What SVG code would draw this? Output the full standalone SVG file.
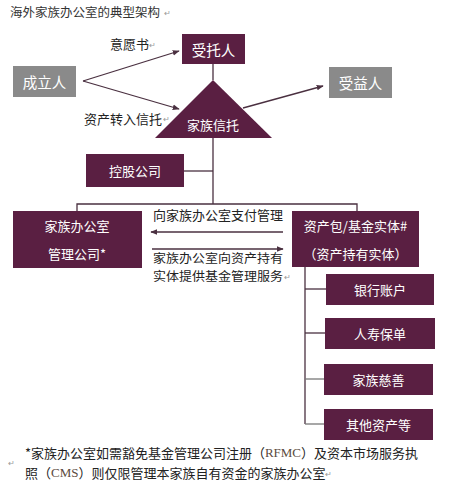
<svg xmlns="http://www.w3.org/2000/svg" width="453" height="487" viewBox="0 0 453 487">
<style>
text{font-family:"Noto Sans CJK SC","Liberation Sans",sans-serif}
.box{fill:#5a1f42}
.gray{fill:#8a8a8a}
.w{fill:#ffffff;font-size:13px;text-anchor:middle;dominant-baseline:central}
.w14{fill:#ffffff;font-size:14.5px;text-anchor:middle;dominant-baseline:central}
.lbl{fill:#222;font-size:13px;dominant-baseline:central}
.sm{fill:#222;font-size:12px;dominant-baseline:central}
.ln{stroke:#4a3040;stroke-width:1.3;fill:none}
.pm{fill:#999;font-size:8px;dominant-baseline:central}
</style>
<defs>
<marker id="ah" viewBox="0 0 10 10" refX="9" refY="5" markerWidth="7" markerHeight="7" orient="auto" markerUnits="userSpaceOnUse">
<path d="M0,1 L10,5 L0,9 z" fill="#4a3040"/>
</marker>
</defs>
<rect width="453" height="487" fill="#fff"/>
<text x="10" y="11" class="lbl" style="font-size:12.5px;fill:#333">海外家族办公室的典型架构</text>
<text x="164" y="12" class="pm">↵</text>

<g id="connectors">
<line class="ln" x1="83" y1="81" x2="179" y2="51" marker-end="url(#ah)"/>
<line class="ln" x1="83" y1="81" x2="179" y2="109" marker-end="url(#ah)"/>
<line class="ln" x1="243" y1="108" x2="323" y2="86" marker-end="url(#ah)"/>
<line class="ln" x1="213" y1="64" x2="213" y2="80"/>
<line class="ln" x1="213" y1="138" x2="213" y2="204"/>
<line class="ln" x1="184" y1="171" x2="213" y2="171"/>
<polyline class="ln" points="77,211 77,204 357,204 357,211"/>
<line class="ln" x1="283" y1="232" x2="151" y2="232" marker-end="url(#ah)"/>
<line class="ln" x1="152" y1="249" x2="283" y2="249" marker-end="url(#ah)"/>
<line class="ln" x1="305" y1="267" x2="305" y2="424"/>
<line class="ln" x1="305" y1="289" x2="326" y2="289"/>
<line class="ln" x1="305" y1="333" x2="325" y2="333"/>
<line class="ln" x1="305" y1="379" x2="324" y2="379" style="stroke:#777"/>
<line class="ln" x1="305" y1="424" x2="324" y2="424" style="stroke:#777"/>
</g>

<g id="labels">
<text x="110" y="43" class="lbl">意愿书</text>
<text x="149" y="44" class="pm">↵</text>
<text x="84" y="118" class="lbl">资产转入信托</text>
<text x="163" y="118" class="pm">↵</text>
<text x="153" y="214" class="lbl">向家族办公室支付管理</text>
<text x="153" y="257" class="sm" textLength="130" lengthAdjust="spacingAndGlyphs">家族办公室向资产持有</text>
<text x="153" y="275" class="sm" textLength="130" lengthAdjust="spacingAndGlyphs">实体提供基金管理服务</text>
<text x="284" y="276" class="pm">↵</text>
</g>

<g id="n-trustee"><rect class="box" x="182" y="34" width="63" height="30"/><text class="w14" x="213.5" y="49">受托人</text></g>
<g id="n-settlor"><rect class="gray" x="13" y="66" width="63" height="31"/><text class="w14" x="44.5" y="81.5">成立人</text></g>
<g id="n-beneficiary"><rect class="gray" x="329" y="67" width="63" height="31"/><text class="w14" x="360.5" y="82.5">受益人</text></g>
<g id="n-trust"><polygon class="box" points="213,80 272,138 155,138"/><text class="w" x="213" y="124">家族信托</text></g>
<g id="n-holding"><rect class="box" x="86" y="154" width="98" height="33"/><text class="w" x="135" y="170.5">控股公司</text></g>
<g id="n-fo"><rect class="box" x="13" y="211" width="129" height="57"/><text class="w" x="77" y="225">家族办公室</text><text class="w" x="77" y="253">管理公司*</text></g>
<g id="n-fund"><rect class="box" x="292" y="211" width="127" height="56"/><text class="w" x="355.5" y="225">资产包/基金实体#</text><text class="w" x="355.5" y="253">（资产持有实体）</text></g>
<g id="n-bank"><rect class="box" x="326" y="274" width="108" height="31"/><text class="w" x="380" y="289.5">银行账户</text></g>
<g id="n-life"><rect class="box" x="325" y="318" width="110" height="31"/><text class="w" x="380" y="333.5">人寿保单</text></g>
<g id="n-charity"><rect class="box" x="324" y="364" width="109" height="31"/><text class="w" x="378.5" y="379.5">家族慈善</text></g>
<g id="n-other"><rect class="box" x="324" y="409" width="109" height="31"/><text class="w" x="378.5" y="424.5">其他资产等</text></g>

<g id="footnote">
<text x="25" y="452" class="lbl" style="font-size:13px" textLength="393" lengthAdjust="spacingAndGlyphs">*家族办公室如需豁免基金管理公司注册（<tspan style="font-family:'Liberation Serif',serif;fill:#5a4a40">RFMC</tspan>）及资本市场服务执</text>
<text x="25" y="472" class="lbl" style="font-size:13px">照（<tspan style="font-family:'Liberation Serif',serif;fill:#5a4a40">CMS</tspan>）则仅限管理本家族自有资金的家族办公室</text>
<text x="8" y="462" class="pm">↵</text>
<text x="325" y="473" class="pm">↵</text>
</g>
</svg>
